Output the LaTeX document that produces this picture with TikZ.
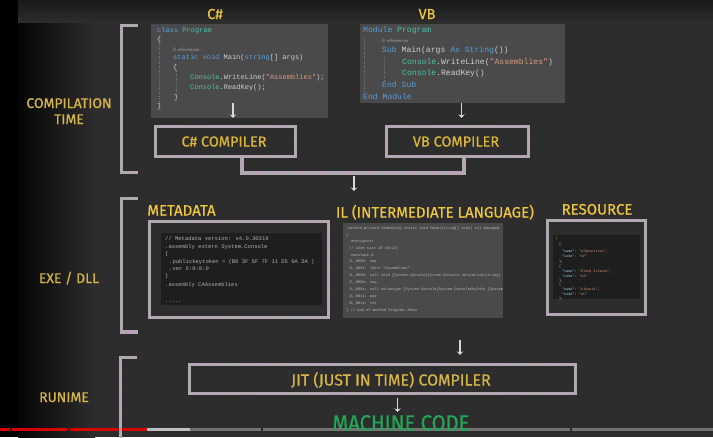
\documentclass[tikz,border=0pt]{standalone}
\usepackage{fontspec}
\usetikzlibrary{arrows.meta}
\newfontfamily\chalk[FakeBold=0.6]{Fira Sans}
\newfontfamily\chalkn[FakeStretch=0.92,FakeBold=0.6]{Fira Sans}
\newfontfamily\mono{Liberation Mono}
\definecolor{board}{HTML}{2D2D2D}
\definecolor{chalkc}{HTML}{ADA9AF}
\definecolor{chalkp}{HTML}{C7A2C4}
\definecolor{labc}{HTML}{D6B548}
\definecolor{titc}{HTML}{EEC63C}
\definecolor{greenc}{HTML}{24A456}
\definecolor{panelc}{HTML}{4A4A4A}
\definecolor{darkp}{HTML}{1E1E1E}
\definecolor{kwc}{HTML}{5A9BD6}
\definecolor{tyc}{HTML}{4EC0A8}
\definecolor{stc}{HTML}{D69D85}
\definecolor{plc}{HTML}{CFCFCF}
\definecolor{jkey}{HTML}{9CDCFE}
\definecolor{jval}{HTML}{CE9178}
\definecolor{arrc}{HTML}{D8D8D8}
\newcommand\kwd[1]{\textcolor{kwc}{#1}}
\newcommand\typn[1]{\textcolor{tyc}{#1}}
\newcommand\strl[1]{\textcolor{stc}{#1}}
\newcommand\jk[1]{\textcolor{jkey}{#1}}
\newcommand\jv[1]{\textcolor{jval}{#1}}
\tikzset{
  chalkbox/.style={draw=chalkc, line width=3.2pt, inner sep=0pt,
    postaction={draw=chalkp, line width=1.4pt, dash pattern=on 0.6pt off 1.6pt}},
  chalkline/.style={draw=chalkc, line width=3.4pt,
    postaction={draw=chalkp, line width=1.4pt, dash pattern=on 0.6pt off 1.6pt}},
  panel/.style={fill=panelc, draw=none, anchor=north west, inner sep=0pt},
  darkpanel/.style={fill=darkp, draw=none, anchor=north west, inner sep=0pt},
  lab/.style={anchor=base, text=labc, font=\chalk\fontsize{14}{16}\selectfont, inner sep=0pt},
  tit/.style={anchor=base, text=titc, font=\chalk\fontsize{14.5}{16}\selectfont, inner sep=0pt},
  cs/.style={anchor=west, inner sep=0pt, text=plc, font=\mono\fontsize{7}{8}\selectfont},
  vb/.style={anchor=west, inner sep=0pt, text=plc, font=\mono\fontsize{8.1}{9}\selectfont},
  refs/.style={anchor=west, inner sep=0pt, text=plc!80!black, font=\sffamily\fontsize{5}{6}\selectfont},
  meta/.style={anchor=west, inner sep=0pt, text=plc!85!black, font=\mono\fontsize{5.5}{6}\selectfont},
  il/.style={anchor=west, inner sep=0pt, text=plc!90!black, font=\mono\fontsize{3.7}{4}\selectfont},
  js/.style={anchor=west, inner sep=0pt, text=plc, font=\mono\fontsize{3.4}{4}\selectfont},
  guide/.style={draw=plc!60!black, line width=0.5pt, dash pattern=on 1pt off 1.5pt},
  arr/.style={draw=arrc, line width=1.4pt, -{Stealth[length=3.5pt,width=6.5pt]}},
}
\begin{document}
\begin{tikzpicture}[x=1pt,y=-1pt]
\useasboundingbox (0,0) rectangle (713,437);
\clip (0,0) rectangle (713,437);
% board
\fill[board] (0,0) rectangle (713,437);
\shade[left color=black!90!board, right color=board] (18,0) rectangle (95,437);
\fill[black] (0,0) rectangle (18,437);
\shade[top color=black!45!board, bottom color=board] (18,0) rectangle (713,22);

% ---------- player progress bar ----------
\fill[red!85!black] (0,427.5) rectangle (10,431);
\fill[red!85!black] (12,427.5) rectangle (67,431);
\fill[red!85!black] (69.5,427.5) rectangle (147,431);
\fill[white!75!black] (147,427.5) rectangle (190,431);
\fill[white!45!black] (190,427.5) rectangle (261,431);
\fill[white!45!black] (263,427.5) rectangle (570,431);
\fill[white!45!black] (572,427.5) rectangle (713,431);

% ---------- brackets ----------
\draw[chalkline] (138,25.5) -- (121.5,25.5) -- (121.5,172.5) -- (138,172.5);
\draw[chalkline] (138,198.5) -- (121.5,198.5) -- (121.5,332) -- (138,332);
\draw[chalkline] (137,357.5) -- (120.5,357.5) -- (120.5,445);

% ---------- left labels ----------
\node[lab] (lcomp1) at (69,108) {COMPILATION};
\node[lab] (lcomp2) at (69,124) {TIME};
\node[lab] (lexe) at (69,283) {EXE / DLL};
\node[lab] (lrun) at (64,402) {RUNIME};

% ---------- C# ----------
\node[tit] (cstitle) at (215,19) {C\#};
\node[panel, minimum width=177pt, minimum height=94pt] (cspanel) at (151,23.5) {};
\draw[guide] (159,43) -- (159,104);
\draw[guide] (176,71) -- (176,95);
\node[cs] (c1) at (157,31) {\kwd{class} \typn{Program}};
\node[cs] (c2) at (157,40) {\{};
\node[refs] (c3) at (173,50) {0 references};
\node[cs] (c4) at (173,58) {\kwd{static} \kwd{void} Main(\kwd{string}[] args)};
\node[cs] (c5) at (173,68) {\{};
\node[cs] (c6) at (190,78) {\typn{Console}.WriteLine(\strl{"Assemblies"});};
\node[cs] (c7) at (190,88) {\typn{Console}.ReadKey();};
\node[cs] (c8) at (174,98) {\}};
\node[cs] (c9) at (157,107) {\}};

% ---------- VB ----------
\node[tit] (vbtitle) at (427,19) {VB};
\node[panel, minimum width=205pt, minimum height=79pt] (vbpanel) at (360,23.5) {};
\draw[guide] (364.5,38) -- (364.5,92);
\draw[guide] (384.5,57) -- (384.5,80);
\node[vb] (v1) at (363,30) {\kwd{Module} \typn{Program}};
\node[refs] (v2) at (382,41) {0 references};
\node[vb] (v3) at (382,50) {\kwd{Sub} Main(args \kwd{As} \kwd{String}())};
\node[vb] (v4) at (402,62) {\typn{Console}.WriteLine(\strl{"Assemblies"})};
\node[vb] (v5) at (402,73) {\typn{Console}.ReadKey()};
\node[vb] (v6) at (382,85) {\kwd{End} \kwd{Sub}};
\node[vb] (v7) at (363,97) {\kwd{End} \kwd{Module}};

% ---------- compilers ----------
\node[chalkbox, minimum width=140pt, minimum height=30pt] (cscomp) at (225.5,141.5) {};
\node[tit, text=titc!92!black] (cscompt) at (224,146.5) {C\# COMPILER};
\node[chalkbox, minimum width=142pt, minimum height=30pt] (vbcomp) at (457.5,141.5) {};
\node[tit, text=titc!92!black] (vbcompt) at (456,146.5) {VB COMPILER};

\coordinate (csa) at (233,103);
\draw[arr] (csa) -- ([yshift=7pt]csa |- cscomp.north);
\coordinate (vba) at (461.5,103);
\draw[arr] (vba) -- ([yshift=7pt]vba |- vbcomp.north);

\coordinate (mL) at (242,173);
\coordinate (mR) at (464,173);
\draw[chalkline] (cscomp.south -| mL) -- (mL) -- (mR) -- (vbcomp.south -| mR);
\coordinate (ma) at (354,175.5);
\coordinate (mb) at (354,191);
\draw[arr] (ma) -- (mb);

% ---------- metadata ----------
\node[tit, font=\chalk\fontsize{15}{16}\selectfont] (metat) at (181.5,215.5) {METADATA};
\node[chalkbox, minimum width=179pt, minimum height=96pt] (metaf) at (239,269.5) {};
\node[darkpanel, minimum width=161pt, minimum height=72pt] (metap) at (161,233) {};
\node[meta] (m1) at (165,239) {// Metadata version: v4.0.30319};
\node[meta] (m2) at (165,247) {.assembly extern System.Console};
\node[meta] (m3) at (165,254.5) {\{};
\node[meta] (m4) at (169,262) {.publickeytoken = (B0 3F 5F 7F 11 D5 0A 3A )};
\node[meta] (m5) at (169,269) {.ver 5:0:0:0};
\node[meta] (m6) at (165,276.5) {\}};
\node[meta] (m7) at (165,285) {.assembly CAAssemblies};
\node[meta] (m8) at (165,302) {.....};

% ---------- IL ----------
\node[tit, font=\chalk\fontsize{15}{16}\selectfont] (ilt) at (435,217.5) {IL (INTERMEDIATE LANGUAGE)};
\node[panel, minimum width=160pt, minimum height=95pt] (ilpanel) at (343,223) {};
\begin{scope}
\clip (343,223) rectangle (503,318);
\node[il] (i1) at (346,228.5) {.method private hidebysig static void  Main(string[] args) cil managed};
\node[il] (i2) at (346,235.5) {\{};
\node[il] (i3) at (349,242) {.entrypoint};
\node[il] (i4) at (349,248.5) {// Code size       19 (0x13)};
\node[il] (i5) at (349,255) {.maxstack  8};
\node[il] (i6) at (349,262) {IL\_0000:  nop};
\node[il] (i7) at (349,268.5) {IL\_0001:  ldstr      "Assemblies"};
\node[il] (i8) at (349,276) {IL\_0006:  call       void [System.Console]System.Console::WriteLine(string)};
\node[il] (i9) at (349,282.5) {IL\_000b:  nop};
\node[il] (i10) at (349,289.5) {IL\_000c:  call       valuetype [System.Console]System.ConsoleKeyInfo [System.Console]};
\node[il] (i11) at (349,296.5) {IL\_0011:  pop};
\node[il] (i12) at (349,303) {IL\_0012:  ret};
\node[il] (i13) at (346,310.5) {\} // end of method Program::Main};
\end{scope}

% ---------- resource ----------
\node[tit, font=\chalk\fontsize{15}{16}\selectfont] (rest) at (597,214.5) {RESOURCE};
\node[chalkbox, minimum width=98pt, minimum height=94pt] (resf) at (596.5,267.5) {};
\node[darkpanel, minimum width=87pt, minimum height=64pt] (resp) at (553,235) {};
\node[js, text=titc!80!black] (j1) at (556,238.5) {[};
\node[js] (j2) at (559,245) {\{};
\node[js] (j3) at (562,251.5) {\jk{"name"}: \jv{"Afghanistan"},};
\node[js] (j4) at (562,256.5) {\jk{"code"}: \jv{"AF"}};
\node[js] (j5) at (559,262) {\},};
\node[js] (j6) at (559,266.5) {\{};
\node[js] (j7) at (562,271.5) {\jk{"name"}: \jv{"Åland Islands"},};
\node[js] (j8) at (562,276) {\jk{"code"}: \jv{"AX"}};
\node[js] (j9) at (559,281) {\},};
\node[js] (j10) at (559,285) {\{};
\node[js] (j11) at (562,289.5) {\jk{"name"}: \jv{"Albania"},};
\node[js] (j12) at (562,294) {\jk{"code"}: \jv{"AL"}};
\node[js] (j13) at (559,298.5) {\},};

% ---------- runtime ----------
\node[chalkbox, minimum width=386pt, minimum height=29pt] (jit) at (382.5,379) {};
\node[tit, text=labc, font=\chalk\fontsize{16}{17}\selectfont] (jitt) at (391,385.5) {JIT (JUST IN TIME) COMPILER};
\coordinate (ja) at (460,340);
\draw[arr] (ja) -- ([yshift=8pt]ja |- jit.north);
\node[tit, text=greenc, font=\chalkn\fontsize{22}{24}\selectfont] (mc) at (401,430.5) {MACHINE CODE};
\coordinate (ka) at (397.5,397.5);
\draw[arr] (ka) -- ([yshift=3pt]ka |- mc.north);
\end{tikzpicture}
\end{document}
